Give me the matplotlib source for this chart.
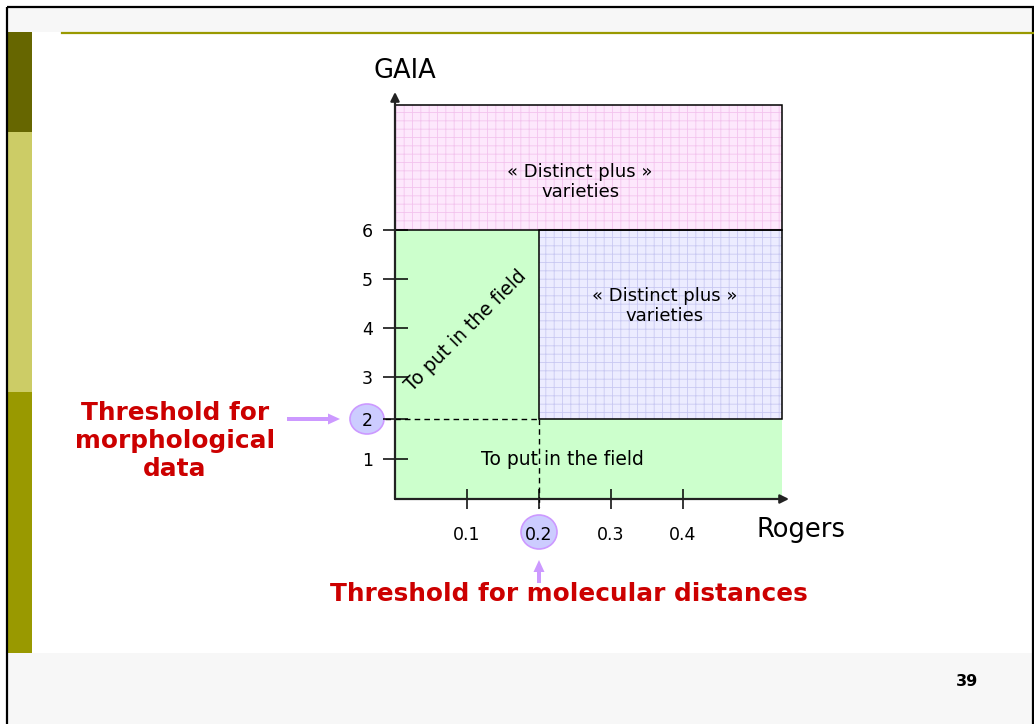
import matplotlib
matplotlib.use("Agg")
import matplotlib.pyplot as plt
from matplotlib.patches import Rectangle, Polygon, Ellipse, FancyArrow

# ---------------- data ----------------
xtick_vals = [0.1, 0.2, 0.3, 0.4]
xtick_labels = ["0.1", "0.2", "0.3", "0.4"]
ytick_vals = [1.33, 2.14, 3, 4, 5, 6]
ytick_labels = ["1", "2", "3", "4", "5", "6"]

x_threshold = 0.2          # Rogers threshold
y_threshold = 2.14         # GAIA threshold (tick "2")
y_high = 6                 # GAIA high limit (tick "6")
x_end = 0.5375             # right edge of the regions
y_top = 8.55               # top of the "distinct plus" band
x_lim = (0.0, 0.5472)
y_lim = (0.51, 8.816)

region_text_top = "« Distinct plus »\nvarieties"
region_text_right = "« Distinct plus »\nvarieties"
region_text_field = "To put in the field"
x_label = "Rogers"
y_label = "GAIA"
thr_morph = "Threshold for\nmorphological\ndata"
thr_mol = "Threshold for molecular distances"
page_num = "39"

# ---------------- figure ----------------
W, H = 1034, 724
fig = plt.figure(figsize=(W / 100, H / 100), dpi=100)
fig.patch.set_facecolor("white")

# background (slide) axes in pixel coords
bg = fig.add_axes([0, 0, 1, 1])
bg.set_xlim(0, W)
bg.set_ylim(H, 0)
bg.axis("off")
bg.set_zorder(0)

bg.add_patch(Rectangle((8, 8), W, 24, facecolor="#f7f7f7", edgecolor="none"))
bg.add_patch(Rectangle((8, 653), W, 80, facecolor="#f7f7f7", edgecolor="none"))
bg.add_patch(Rectangle((8, 32), 24, 100, facecolor="#666600", edgecolor="none"))
bg.add_patch(Rectangle((8, 132), 24, 260, facecolor="#cccc66", edgecolor="none"))
bg.add_patch(Rectangle((8, 392), 24, 261, facecolor="#999900", edgecolor="none"))
bg.plot([62, W], [33, 33], color="#999900", lw=1.6)
bg.add_patch(Rectangle((7, 7), W - 8, H + 10, facecolor="none", edgecolor="black", lw=1.6))
bg.text(967, 682, page_num, ha="center", va="center", fontsize=11.5,
        fontweight="bold", family="DejaVu Sans")

# highlight circles
bg.add_patch(Ellipse((367, 419), 34, 30, facecolor="#ccccff", edgecolor="#cc99ff", lw=1.2))
bg.add_patch(Ellipse((539, 532), 36, 34, facecolor="#ccccff", edgecolor="#cc99ff", lw=1.2))

# purple arrows
bg.add_patch(FancyArrow(287, 419, 53, 0, width=4, head_width=11, head_length=12,
                        length_includes_head=True, color="#cc99ff", lw=0))
bg.add_patch(FancyArrow(539, 583, 0, -23, width=4, head_width=11, head_length=12,
                        length_includes_head=True, color="#cc99ff", lw=0))

red = "#cc0000"
bg.text(175, 441, thr_morph, ha="center", va="center", fontsize=17.8,
        fontweight="bold", color=red, linespacing=1.2)
bg.text(569, 594, thr_mol, ha="center", va="center", fontsize=17.8,
        fontweight="bold", color=red)
bg.text(405, 71, y_label, ha="center", va="center", fontsize=18.5)
bg.text(801, 530, x_label, ha="center", va="center", fontsize=18.5)

# ---------------- chart axes ----------------
ax = fig.add_axes([395 / W, 1 - 499 / H, (789 - 395) / W, (499 - 92) / H])
ax.set_zorder(1)
ax.patch.set_alpha(0)
ax.set_xlim(*x_lim)
ax.set_ylim(*y_lim)
for s in ax.spines.values():
    s.set_visible(False)

# green region
green = Polygon([(0, y_lim[0]), (x_end, y_lim[0]), (x_end, y_threshold),
                 (x_threshold, y_threshold), (x_threshold, y_high), (0, y_high)],
                closed=True, facecolor="#ccffcc", edgecolor="none", zorder=1)
ax.add_patch(green)

plt.rcParams["hatch.linewidth"] = 0.6
# pink band
ax.add_patch(Rectangle((0, y_high), x_end, y_top - y_high, facecolor="#fde8fc",
                       edgecolor="#f3c4ee", hatch="++", lw=0, zorder=1))
ax.add_patch(Rectangle((0, y_high), x_end, y_top - y_high, fill=False,
                       edgecolor="black", lw=1.1, zorder=3))
# blue box
ax.add_patch(Rectangle((x_threshold, y_threshold), x_end - x_threshold, y_high - y_threshold,
                       facecolor="#ececff", edgecolor="#c9c9f2", hatch="++", lw=0, zorder=1))
ax.add_patch(Rectangle((x_threshold, y_threshold), x_end - x_threshold, y_high - y_threshold,
                       fill=False, edgecolor="black", lw=1.1, zorder=3))

# dashed threshold lines
ax.plot([-0.014, x_threshold], [y_threshold, y_threshold], color="black", lw=1,
        dashes=(4, 3), zorder=4, clip_on=False)
ax.plot([x_threshold, x_threshold], [y_threshold, 0.35], color="black", lw=1,
        dashes=(4, 3), zorder=4, clip_on=False)

# axes with arrows
ax.annotate("", xy=(x_lim[1], y_lim[0]), xytext=(0, y_lim[0]),
            arrowprops=dict(arrowstyle="-|>", color="#222222", lw=1.6, mutation_scale=13,
                            shrinkA=0, shrinkB=0), annotation_clip=False, zorder=5)
ax.annotate("", xy=(0, y_lim[1]), xytext=(0, y_lim[0]),
            arrowprops=dict(arrowstyle="-|>", color="#222222", lw=1.6, mutation_scale=13,
                            shrinkA=0, shrinkB=0), annotation_clip=False, zorder=5)

ax.set_xticks(xtick_vals, xtick_labels)
ax.set_yticks(ytick_vals, ytick_labels)
ax.tick_params(axis="x", direction="inout", length=15, width=1.1, pad=12, labelsize=12.5)
ax.tick_params(axis="y", direction="inout", length=18, width=1.1, pad=7, labelsize=12.5)

# region labels
ax.text(0.257, 6.98, region_text_top, ha="center", va="center", fontsize=13,
        linespacing=1.15, zorder=6)
ax.text(0.375, 4.45, region_text_right, ha="center", va="center", fontsize=13,
        linespacing=1.15, zorder=6)
ax.text(0.233, 1.306, region_text_field, ha="center", va="center", fontsize=13.5, zorder=6)
ax.text(0.0986, 3.94, region_text_field, ha="center", va="center", fontsize=13.5,
        rotation=45, rotation_mode="anchor", zorder=6)

fig.savefig("out.png", dpi=100)
